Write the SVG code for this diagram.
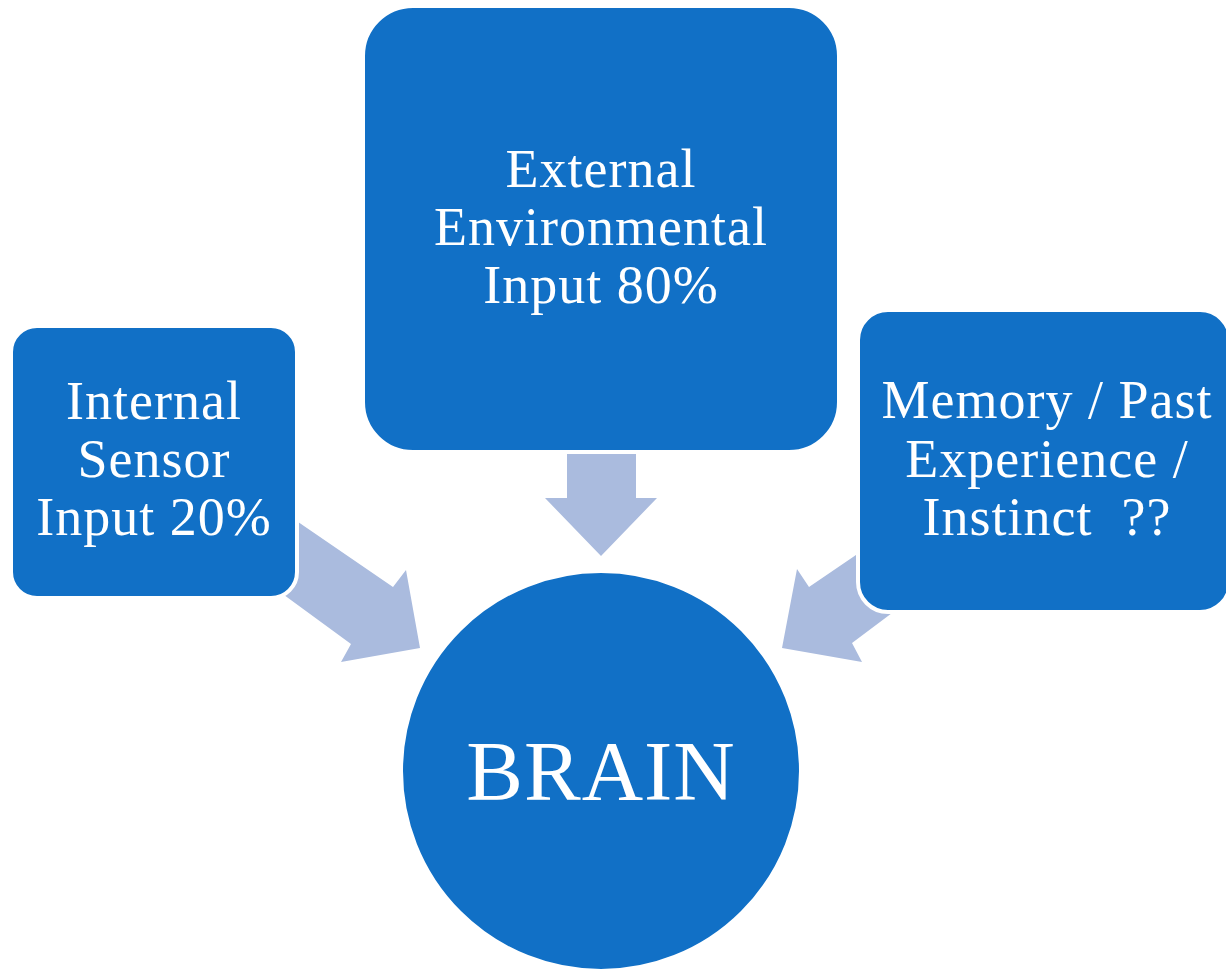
<svg xmlns="http://www.w3.org/2000/svg" width="1226" height="971" viewBox="0 0 1226 971">
<style>
.box{fill:#1170C6;stroke:#FFFFFF;stroke-width:4}
.arrow{fill:#AABBDE}
.t{font-family:"Liberation Serif","Times New Roman",serif;font-size:54px;fill:#FFFFFF;text-anchor:middle;letter-spacing:1px}
.big{font-size:85px;letter-spacing:1px}
</style>
<rect width="1226" height="971" fill="#FFFFFF"/>
<g id="connectors">
<polygon class="arrow" points="250,489 393,587 406,570 420,648 341,662 351,644 250,570"/>
<polygon class="arrow" points="567,430 636,430 636,498 657,498 601,556 545,498 567,498"/>
<polygon class="arrow" points="797,569 809,587 900,525 900,607 852,643 862,662 782,648"/>
</g>
<g id="internal">
<rect class="box" x="11" y="326" width="286" height="272" rx="26"/>
<text class="t" x="154" y="419">Internal</text>
<text class="t" x="154" y="477">Sensor</text>
<text class="t" x="154" y="535">Input 20%</text>
</g>
<g id="external">
<rect class="box" x="363" y="6" width="476" height="446" rx="50"/>
<text class="t" x="601" y="187">External</text>
<text class="t" x="601" y="245">Environmental</text>
<text class="t" x="601" y="303">Input 80%</text>
</g>
<g id="memory">
<rect class="box" x="858" y="310" width="372" height="302" rx="30"/>
<text class="t" x="1047" y="418">Memory / Past</text>
<text class="t" x="1047" y="477">Experience /</text>
<text class="t" x="1047" y="535" xml:space="preserve">Instinct  ??</text>
</g>
<g id="brain">
<circle class="box" cx="601" cy="771" r="200"/>
<text class="t big" x="601" y="800">BRAIN</text>
</g>
</svg>
